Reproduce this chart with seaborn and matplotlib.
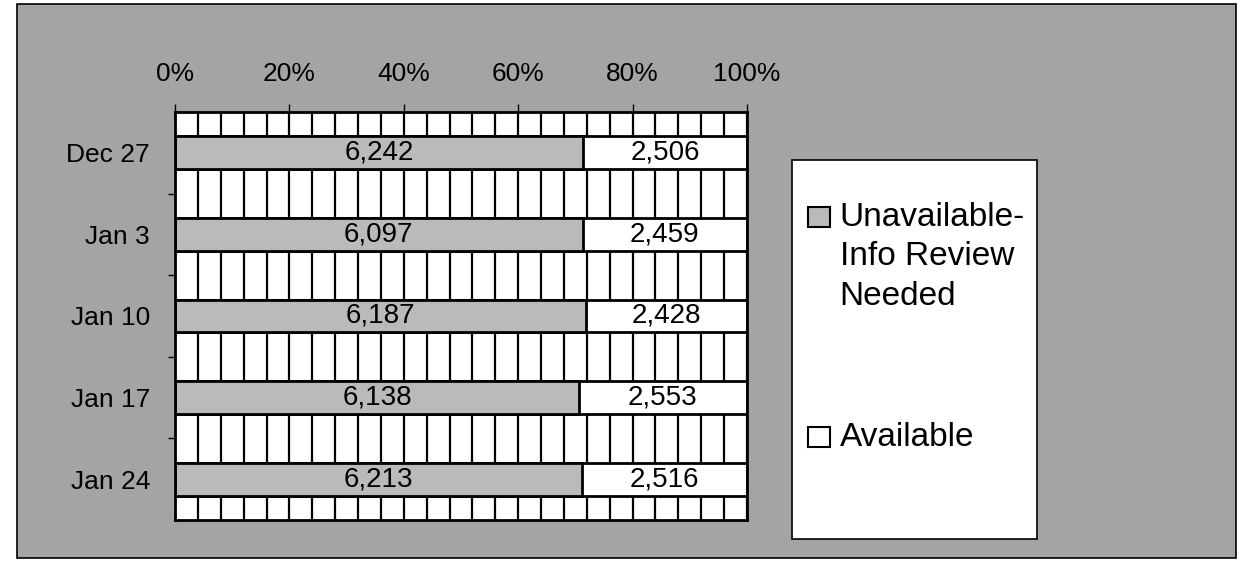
import numpy as np
import pandas as pd
import matplotlib
matplotlib.use('Agg')
import matplotlib.pyplot as plt
from matplotlib.patches import Rectangle
from matplotlib.ticker import MultipleLocator, FixedLocator, PercentFormatter
import seaborn as sns

# weekly counts
weeks = ['Dec 27', 'Jan 3', 'Jan 10', 'Jan 17', 'Jan 24']
unavailable = [6242, 6097, 6187, 6138, 6213]
available = [2506, 2459, 2428, 2553, 2516]
legend_labels = ['Unavailable-\nInfo Review\nNeeded', 'Available']

df = pd.DataFrame({'week': weeks, 'unavailable': unavailable, 'available': available})
df['total'] = df.unavailable + df.available
df['unavail_pct'] = df.unavailable / df.total * 100
df['full_pct'] = 100.0

sns.set_style('white')
plt.rcParams['font.family'] = ['Liberation Sans', 'DejaVu Sans']
plt.rcParams['text.color'] = 'black'
plt.rcParams['xtick.color'] = 'black'
plt.rcParams['ytick.color'] = 'black'

fig = plt.figure(figsize=(12.42, 5.61), dpi=100, facecolor='white')

# grey chart-area background with a thin black frame
fig.patches.append(Rectangle((0.0137, 0.0053), 0.9813, 0.9876, transform=fig.transFigure,
                             facecolor='#a4a4a4', edgecolor='black', linewidth=1.2, zorder=-5))

ax = fig.add_axes([0.1409, 0.0731, 0.4605, 0.7273])
ax.set_facecolor('white')

# available = whole bar, unavailable drawn on top of it from 0
sns.barplot(data=df, x='full_pct', y='week', color='white', edgecolor='black',
            linewidth=2, width=0.4, saturation=1, ax=ax)
sns.barplot(data=df, x='unavail_pct', y='week', color='#bababa', edgecolor='black',
            linewidth=2, width=0.4, saturation=1, ax=ax)

# value labels in the middle of each segment
for i, row in df.iterrows():
    ax.text(row.unavail_pct / 2, i, f'{row.unavailable:,}', ha='center', va='center',
            fontsize=20, zorder=5)
    ax.text((row.unavail_pct + 100) / 2, i, f'{row.available:,}', ha='center', va='center',
            fontsize=20, zorder=5)

ax.set_xlim(0, 100)
ax.set_ylim(4.5, -0.5)
ax.set_xlabel('')
ax.set_ylabel('')

# x axis on top, gridlines every 4%
ax.xaxis.tick_top()
ax.xaxis.set_major_locator(MultipleLocator(20))
ax.xaxis.set_minor_locator(MultipleLocator(4))
ax.xaxis.set_major_formatter(PercentFormatter(decimals=0))
ax.set_axisbelow(True)
ax.grid(axis='x', which='both', color='black', linewidth=1.6)
ax.tick_params(axis='x', which='major', length=6, width=1, direction='out',
               pad=13, labelsize=19, top=True, bottom=False)
ax.tick_params(axis='x', which='minor', length=0)

# category separators as small ticks on the left
ax.yaxis.set_minor_locator(FixedLocator([0.5, 1.5, 2.5, 3.5]))
ax.tick_params(axis='y', which='major', length=0, pad=18, labelsize=19)
ax.tick_params(axis='y', which='minor', length=5, width=1, direction='out', left=True)

for s in ax.spines.values():
    s.set_visible(True)
    s.set_color('black')
    s.set_linewidth(2)

# legend box drawn like the original
fig.patches.append(Rectangle((0.6377, 0.0392), 0.1973, 0.6756, transform=fig.transFigure,
                             facecolor='white', edgecolor='black', linewidth=1.2, zorder=1))
fig.patches.append(Rectangle((0.6506, 0.5954), 0.0177, 0.0357, transform=fig.transFigure,
                             facecolor='#bababa', edgecolor='black', linewidth=1.5, zorder=2))
fig.patches.append(Rectangle((0.6506, 0.2032), 0.0177, 0.0357, transform=fig.transFigure,
                             facecolor='white', edgecolor='black', linewidth=1.5, zorder=2))
fig.text(0.676, 0.542, legend_labels[0], ha='left', va='center', fontsize=24,
         linespacing=1.35, zorder=3)
fig.text(0.676, 0.221, legend_labels[1], ha='left', va='center', fontsize=24, zorder=3)

fig.savefig('out.png', dpi=100, facecolor=fig.get_facecolor())
